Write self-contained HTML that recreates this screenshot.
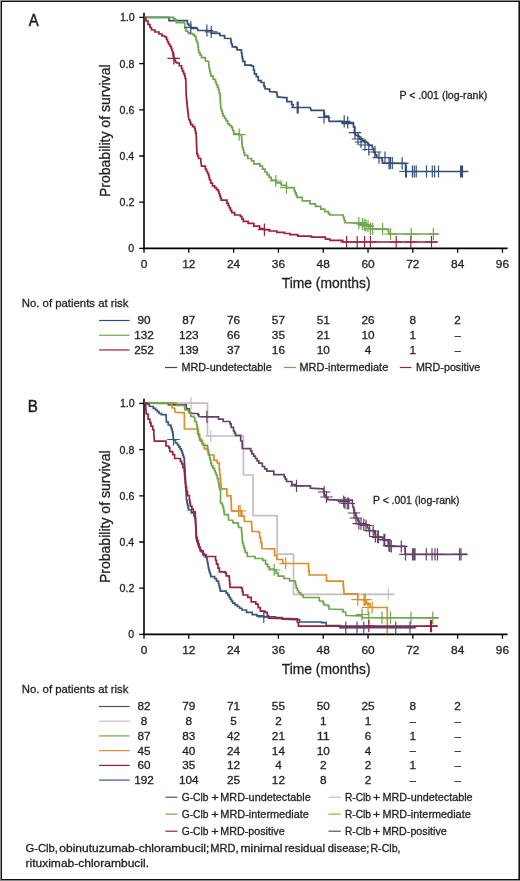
<!DOCTYPE html><html><head><meta charset="utf-8"><style>html,body{margin:0;padding:0;background:#fff;width:520px;height:881px;overflow:hidden}svg{display:block;will-change:transform}text{font-family:"Liberation Sans",sans-serif;fill:#231f20;stroke:#231f20;stroke-width:0.3px}</style></head><body>
<svg width="520" height="881" viewBox="0 0 520 881">
<rect x="0" y="0" width="520" height="881" fill="#8a8a8a"/><rect x="0" y="0" width="1" height="1" fill="#c8c8c8"/>
<rect x="1" y="1" width="519" height="879" fill="#111"/>
<rect x="2" y="2" width="516.4" height="877" fill="#fff"/>
<text x="28.8" y="25.6" font-size="17.2" textLength="9.93" lengthAdjust="spacingAndGlyphs" style="stroke-width:0.5px">A</text>
<path d="M144 12.8V249.2" stroke="#000" stroke-width="1.6" fill="none"/>
<path d="M143.2 248.4H507.6" stroke="#000" stroke-width="1.6" fill="none"/>
<path d="M139.2 248.4H144M139.2 202.2H144M139.2 156H144M139.2 109.8H144M139.2 63.6H144M139.2 17.4H144M144 248.4V252.8M188.81 248.4V252.8M233.62 248.4V252.8M278.42 248.4V252.8M323.23 248.4V252.8M368.04 248.4V252.8M412.85 248.4V252.8M457.66 248.4V252.8M502.46 248.4V252.8" stroke="#000" stroke-width="1.3" fill="none"/>
<text x="128.27" y="252.3" font-size="10.9" textLength="5.91" lengthAdjust="spacingAndGlyphs">0</text>
<text x="119.57" y="206.1" font-size="10.9" textLength="14.86" lengthAdjust="spacingAndGlyphs">0.2</text>
<text x="119.58" y="159.9" font-size="10.9" textLength="14.64" lengthAdjust="spacingAndGlyphs">0.4</text>
<text x="119.58" y="113.7" font-size="10.9" textLength="14.75" lengthAdjust="spacingAndGlyphs">0.6</text>
<text x="119.58" y="67.5" font-size="10.9" textLength="14.75" lengthAdjust="spacingAndGlyphs">0.8</text>
<text x="119.9" y="21.3" font-size="10.9" textLength="14.77" lengthAdjust="spacingAndGlyphs">1.0</text>
<text x="144" y="267.6" font-size="11.3" text-anchor="middle" textLength="6.63" lengthAdjust="spacingAndGlyphs">0</text>
<text x="188.81" y="267.6" font-size="11.3" text-anchor="middle" textLength="13.26" lengthAdjust="spacingAndGlyphs">12</text>
<text x="233.62" y="267.6" font-size="11.3" text-anchor="middle" textLength="13.26" lengthAdjust="spacingAndGlyphs">24</text>
<text x="278.42" y="267.6" font-size="11.3" text-anchor="middle" textLength="13.26" lengthAdjust="spacingAndGlyphs">36</text>
<text x="323.23" y="267.6" font-size="11.3" text-anchor="middle" textLength="13.26" lengthAdjust="spacingAndGlyphs">48</text>
<text x="368.04" y="267.6" font-size="11.3" text-anchor="middle" textLength="13.26" lengthAdjust="spacingAndGlyphs">60</text>
<text x="412.85" y="267.6" font-size="11.3" text-anchor="middle" textLength="13.26" lengthAdjust="spacingAndGlyphs">72</text>
<text x="457.66" y="267.6" font-size="11.3" text-anchor="middle" textLength="13.26" lengthAdjust="spacingAndGlyphs">84</text>
<text x="502.46" y="267.6" font-size="11.3" text-anchor="middle" textLength="13.26" lengthAdjust="spacingAndGlyphs">96</text>
<text x="281.72" y="287.9" font-size="14" textLength="88.86" lengthAdjust="spacingAndGlyphs">Time (months)</text>
<text x="0" y="0" font-size="14" textLength="132.69" lengthAdjust="spacingAndGlyphs" transform="translate(109.5 197.12) rotate(-90)">Probability of survival</text>
<path d="M144 17.3L169 17.3L169 20.7L186 20.7L187.4 20.7L187.4 24L188.8 24L188.8 25.5L190.8 25.5L190.8 26.4L190.8 28.3L197.5 28.3L198 30.5L211.2 30.5L211.2 33.1L218.8 33.3L219.8 33.3L219.8 35.4L223.7 35.6L224.6 35.6L224.6 38.3L230.4 38.5L230.85 38.5L230.85 41.25L231.3 41.25L231.3 44L232.3 44L232.3 46.9L236.2 46.9L236.2 47.6L237.1 47.6L237.1 49.8L241 49.8L241.45 49.8L241.45 53.15L241.9 53.15L241.9 56.5L242.4 56.5L242.4 58.9L242.9 58.9L242.9 61.3L244.8 61.3L244.8 65.2L251.5 65.2L251.5 66L253.5 66L253.5 70L254.4 70L254.4 73.8L256.3 73.8L256.3 76.7L258.3 76.7L258.3 80.6L261.2 80.6L261.2 82.5L264 82.5L264 86.3L265 86.3L265 88.8L268.7 89.2L269.6 89.2L269.6 91.5L276.3 92.1L276.8 92.1L276.8 94.5L277.3 94.5L277.3 96.9L285 97.6L286.9 97.6L286.9 101.7L291.7 101.7L291.7 104.6L293 104.6L293 107.5L310.4 107.5L311 110.4L323.5 110.4L323.95 110.4L323.95 113.3L324.4 113.3L324.4 116.2L328.5 116.2L329.2 121.3L342.3 121.3L342.3 123.4L353.5 123.4L353.5 126.9L354.6 126.9L354.6 128.5L354.4 133.1L355.4 133.1L355.4 135.4L358.5 135.4L358.5 136.5L359.6 136.5L359.6 138.8L362.3 138.8L362.3 140.8L365.4 140.8L365.4 142.3L367.7 142.3L367.7 143.8L368.5 143.8L368.5 145.4L372.3 145.4L372.3 147.7L373.4 148.2L373.8 152.5L375.25 152.5L375.25 154.9L376.7 154.9L376.7 157.3L381.5 157.8L382 157.8L382 160.45L382.5 160.45L382.5 163.1L405.6 163.3L405.6 171.5L468.3 171.5" stroke="#344e76" stroke-width="1.7" fill="none" stroke-linejoin="miter" stroke-linecap="butt"/>
<path d="M144 17.3L172 17.3L173.5 17.3L173.5 18.7L175.4 18.7L175.4 20.2L176.3 20.2L176.3 22.6L184.5 22.6L185 28.3L186 28.3L186 31.2L187.9 31.2L187.9 32.7L189.3 32.7L189.3 33.6L192.7 33.6L192.7 34.6L194.6 34.6L194.6 36.5L196 36.5L196 40L196.85 40L196.85 42L197.7 42L197.7 44L198.03 44L198.03 46.9L198.37 46.9L198.37 49.8L198.7 49.8L198.7 52.7L200.1 52.7L200.1 55.15L201.5 55.15L201.5 57.6L205.4 57.6L205.4 60.8L208.5 61.4L209.2 68.5L209.73 68.5L209.73 71.07L210.27 71.07L210.27 73.63L210.8 73.63L210.8 76.2L213.1 76.2L213.1 79.25L215.4 79.25L215.4 82.3L216.43 82.3L216.43 84.87L217.47 84.87L217.47 87.43L218.5 87.43L218.5 90L219.25 90L219.25 93.1L220 93.1L220 96.2L220.16 96.2L220.16 98.66L220.32 98.66L220.32 101.12L220.48 101.12L220.48 103.58L220.64 103.58L220.64 106.04L220.8 106.04L220.8 108.5L221.57 108.5L221.57 111.07L222.33 111.07L222.33 113.63L223.1 113.63L223.1 116.2L224.65 116.2L224.65 118.5L226.2 118.5L226.2 120.8L227.7 120.8L227.7 123.8L229.6 123.8L229.6 125.75L231.5 125.75L231.5 127.7L232.65 127.7L232.65 130.75L233.8 130.75L233.8 133.8L239.2 133.8L239.2 134.6L241.5 134.6L241.5 136.9L241.7 136.9L241.7 139.6L241.9 139.6L241.9 142.3L242.1 142.3L242.1 145L242.3 145L242.3 147.7L243.07 147.7L243.07 150.27L243.83 150.27L243.83 152.83L244.6 152.83L244.6 155.4L247.7 155.4L247.7 158.5L251.5 158.5L251.5 160.8L253.8 160.8L253.8 163.8L260 163.8L260 166.2L262.5 166.2L262.5 169.1L265 169.1L265 172L267.07 172L267.07 174.67L269.13 174.67L269.13 177.33L271.2 177.33L271.2 180L276 180L276 182.9L281.25 182.9L281.25 185.3L286.5 185.3L286.5 187.7L294.2 187.7L294.2 190.6L295.17 190.6L295.17 192.83L296.13 192.83L296.13 195.07L297.1 195.07L297.1 197.3L302.3 197.3L302.3 200.8L310 200.8L310 203.8L315.4 203.8L315.4 206.45L320.8 206.45L320.8 209.1L324.65 209.1L324.65 211.55L328.5 211.55L328.5 214L330 214L330 215L342.5 215L343.33 215L343.33 217.53L344.17 217.53L344.17 220.07L345 220.07L345 222.6L357.7 223L365.8 223L365.8 225.4L369.2 225.4L369.2 226.5L370.4 226.5L370.4 228.8L388 229.3L388.4 229.3L388.4 231.65L388.8 231.65L388.8 234L438 234" stroke="#6ea64e" stroke-width="1.7" fill="none" stroke-linejoin="miter" stroke-linecap="butt"/>
<path d="M144 17.3L145 17.3L145 19.15L146 19.15L146 21L148 21L148 24.5L150 24.5L150 27.5L151.5 27.5L151.5 30L155 30L155 32L159 32L159 34L162 34L162 36L165 36L165 37L166.5 37L166.5 39.5L167.5 39.5L167.5 41.75L168.5 41.75L168.5 44L169.75 44L169.75 46L171 46L171 48L171.75 48L171.75 50L172.5 50L172.5 52L172.9 52L172.9 54.07L173.3 54.07L173.3 56.13L173.7 56.13L173.7 58.2L174.55 58.2L174.55 60.25L175.4 60.25L175.4 62.3L177 62.3L177 63L179.25 63L179.25 65.75L181.5 65.75L181.5 68.5L182.53 68.5L182.53 71.07L183.57 71.07L183.57 73.63L184.6 73.63L184.6 76.2L185.2 76.2L185.2 78.5L185.8 78.5L185.8 80.8L186.2 96.2L186.44 96.2L186.44 98.66L186.68 98.66L186.68 101.12L186.92 101.12L186.92 103.58L187.16 103.58L187.16 106.04L187.4 106.04L187.4 108.5L187.68 108.5L187.68 110.8L187.95 110.8L187.95 113.1L188.22 113.1L188.22 115.4L188.5 115.4L188.5 117.7L189.2 120L190 120L190 122.3L190.8 122.3L190.8 124.6L192.7 124.6L192.7 126.55L194.6 126.55L194.6 128.5L195.13 128.5L195.13 130.8L195.67 130.8L195.67 133.1L196.2 133.1L196.2 135.4L196.29 135.4L196.29 137.7L196.38 137.7L196.38 140L196.46 140L196.46 142.3L196.55 142.3L196.55 144.6L196.64 144.6L196.64 146.9L196.72 146.9L196.72 149.2L196.81 149.2L196.81 151.5L196.9 151.5L196.9 153.8L197.7 153.8L197.7 156.15L198.5 156.15L198.5 158.5L200.8 158.5L200.8 160.8L201.5 166.2L205.4 166.2L205.4 169.2L206.43 169.2L206.43 171.27L207.47 171.27L207.47 173.33L208.5 173.33L208.5 175.4L209.05 175.4L209.05 177.7L209.6 177.7L209.6 180L210.8 180L210.8 183.1L212.5 183.1L212.5 185.8L214.6 185.8L214.6 187.7L216.45 187.7L216.45 189.6L218.3 189.6L218.3 191.5L219.03 191.5L219.03 193.68L219.75 193.68L219.75 195.85L220.47 195.85L220.47 198.02L221.2 198.02L221.2 200.2L226.9 200.2L226.9 203.1L228.1 203.1L228.1 205.5L229.3 205.5L229.3 207.9L230.5 207.9L230.5 210.3L231.7 210.3L231.7 212.7L234.6 212.7L234.6 215L240.4 215L240.4 216.5L241.85 216.5L241.85 218.9L243.3 218.9L243.3 221.3L248.1 221.3L248.1 223.3L253.8 223.3L253.8 226.2L259.6 226.2L259.6 228.5L264.4 228.5L264.4 229.6L269.2 229.6L269.2 231L276.9 231L276.9 232.3L284.6 232.3L284.6 233.5L290 233.5L290 234.6L297.7 234.6L297.7 236.2L311.5 236.2L311.5 237.1L325.4 237.1L325.4 239.2L330 239.2L330 240.4L341.5 240.4L342.7 240.4L342.7 242L437.5 242" stroke="#9c1f3e" stroke-width="1.7" fill="none" stroke-linejoin="miter" stroke-linecap="butt"/>
<path d="M167.5 58.4H180.1M173.8 52.3V64.5M258.1 229.6H270.7M264.4 223.5V235.7M340.3 242H352.9M346.6 235.9V248.1M350.9 242H363.5M357.2 235.9V248.1M358.3 242H370.9M364.6 235.9V248.1M364.1 242H376.7M370.4 235.9V248.1M389.9 242H402.5M396.2 235.9V248.1M404.5 242H417.1M410.8 235.9V248.1M425.2 242H437.8M431.5 235.9V248.1" stroke="#9c1f3e" stroke-width="1.2" fill="none"/>
<path d="M232.9 134.6H245.5M239.2 128.5V140.7M269.5 181H282.1M275.8 174.9V187.1M280.2 187.7H292.8M286.5 181.6V193.8M352.5 223.2H365.1M358.8 217.1V229.3M356 224H368.6M362.3 217.9V230.1M357.9 224.8H370.5M364.2 218.7V230.9M359.5 225.4H372.1M365.8 219.3V231.5M361.7 226.2H374.3M368 220.1V232.3M364.1 228.8H376.7M370.4 222.7V234.9M366.4 228.9H379M372.7 222.8V235M376.3 229.1H388.9M382.6 223V235.2M384.2 234H396.8M390.5 227.9V240.1M404.9 234H417.5M411.2 227.9V240.1M427.1 234H439.7M433.4 227.9V240.1" stroke="#6ea64e" stroke-width="1.2" fill="none"/>
<path d="M184.5 27.4H197.1M190.8 21.3V33.5M200.6 30.5H213.2M206.9 24.4V36.6M204.9 31.8H217.5M211.2 25.7V37.9M290.9 107.5H303.5M297.2 101.4V113.6M291.9 107.5H304.5M298.2 101.4V113.6M317.7 117.3H330.3M324 111.2V123.4M337.9 121.3H350.5M344.2 115.2V127.4M341.4 122.4H354M347.7 116.3V128.5M348.7 132.7H361.3M355 126.6V138.8M351.7 139H364.3M358 132.9V145.1M354.7 142H367.3M361 135.9V148.1M358.7 145H371.3M365 138.9V151.1M362.5 149.5H375.1M368.8 143.4V155.6M368.7 152H381.3M375 145.9V158.1M372.7 157.7H385.3M379 151.6V163.8M378.7 157.7H391.3M385 151.6V163.8M382.7 163.2H395.3M389 157.1V169.3M384.1 163.2H396.7M390.4 157.1V169.3M386 163.2H398.6M392.3 157.1V169.3M395.9 163.3H408.5M402.2 157.2V169.4M399.3 171.5H411.9M405.6 165.4V177.6" stroke="#344e76" stroke-width="1.2" fill="none"/>
<path d="M406.4 171.5H406.4M406.4 165.4V177.6M412.4 171.5H412.4M412.4 165.4V177.6M414.3 171.5H414.3M414.3 165.4V177.6M416.2 171.5H416.2M416.2 165.4V177.6M426.5 171.5H426.5M426.5 165.4V177.6M432.3 171.5H432.3M432.3 165.4V177.6M434.6 171.5H434.6M434.6 165.4V177.6M438.5 171.5H438.5M438.5 165.4V177.6M460.6 171.5H460.6M460.6 165.4V177.6M461.6 171.5H461.6M461.6 165.4V177.6M462.5 171.5H462.5M462.5 165.4V177.6" stroke="#344e76" stroke-width="1.2" fill="none"/>
<text x="399.45" y="98.9" font-size="10.9" textLength="87.8" lengthAdjust="spacingAndGlyphs">P &lt; .001 (log-rank)</text>
<text x="21.79" y="306.6" font-size="11.8" textLength="106.69" lengthAdjust="spacingAndGlyphs">No. of patients at risk</text>
<path d="M99 320.5H129.6" stroke="#344e76" stroke-width="1.2" fill="none"/>
<text x="144" y="324.4" font-size="11.2" text-anchor="middle" textLength="13.1" lengthAdjust="spacingAndGlyphs">90</text>
<text x="188.81" y="324.4" font-size="11.2" text-anchor="middle" textLength="13.1" lengthAdjust="spacingAndGlyphs">87</text>
<text x="233.62" y="324.4" font-size="11.2" text-anchor="middle" textLength="13.1" lengthAdjust="spacingAndGlyphs">76</text>
<text x="278.42" y="324.4" font-size="11.2" text-anchor="middle" textLength="13.1" lengthAdjust="spacingAndGlyphs">57</text>
<text x="323.23" y="324.4" font-size="11.2" text-anchor="middle" textLength="13.1" lengthAdjust="spacingAndGlyphs">51</text>
<text x="368.04" y="324.4" font-size="11.2" text-anchor="middle" textLength="13.1" lengthAdjust="spacingAndGlyphs">26</text>
<text x="412.85" y="324.4" font-size="11.2" text-anchor="middle" textLength="6.55" lengthAdjust="spacingAndGlyphs">8</text>
<text x="457.66" y="324.4" font-size="11.2" text-anchor="middle" textLength="6.55" lengthAdjust="spacingAndGlyphs">2</text>
<path d="M99 335.22H129.6" stroke="#6ea64e" stroke-width="1.2" fill="none"/>
<text x="144" y="339.12" font-size="11.2" text-anchor="middle" textLength="19.65" lengthAdjust="spacingAndGlyphs">132</text>
<text x="188.81" y="339.12" font-size="11.2" text-anchor="middle" textLength="19.65" lengthAdjust="spacingAndGlyphs">123</text>
<text x="233.62" y="339.12" font-size="11.2" text-anchor="middle" textLength="13.1" lengthAdjust="spacingAndGlyphs">66</text>
<text x="278.42" y="339.12" font-size="11.2" text-anchor="middle" textLength="13.1" lengthAdjust="spacingAndGlyphs">35</text>
<text x="323.23" y="339.12" font-size="11.2" text-anchor="middle" textLength="13.1" lengthAdjust="spacingAndGlyphs">21</text>
<text x="368.04" y="339.12" font-size="11.2" text-anchor="middle" textLength="13.1" lengthAdjust="spacingAndGlyphs">10</text>
<text x="412.85" y="339.12" font-size="11.2" text-anchor="middle" textLength="6.55" lengthAdjust="spacingAndGlyphs">1</text>
<text x="457.66" y="338.82" font-size="10.9" text-anchor="middle">–</text>
<path d="M99 349.94H129.6" stroke="#9c1f3e" stroke-width="1.2" fill="none"/>
<text x="144" y="353.84" font-size="11.2" text-anchor="middle" textLength="19.65" lengthAdjust="spacingAndGlyphs">252</text>
<text x="188.81" y="353.84" font-size="11.2" text-anchor="middle" textLength="19.65" lengthAdjust="spacingAndGlyphs">139</text>
<text x="233.62" y="353.84" font-size="11.2" text-anchor="middle" textLength="13.1" lengthAdjust="spacingAndGlyphs">37</text>
<text x="278.42" y="353.84" font-size="11.2" text-anchor="middle" textLength="13.1" lengthAdjust="spacingAndGlyphs">16</text>
<text x="323.23" y="353.84" font-size="11.2" text-anchor="middle" textLength="13.1" lengthAdjust="spacingAndGlyphs">10</text>
<text x="368.04" y="353.84" font-size="11.2" text-anchor="middle" textLength="6.55" lengthAdjust="spacingAndGlyphs">4</text>
<text x="412.85" y="353.84" font-size="11.2" text-anchor="middle" textLength="6.55" lengthAdjust="spacingAndGlyphs">1</text>
<text x="457.66" y="353.54" font-size="10.9" text-anchor="middle">–</text>
<path d="M165 367.5H177.3" stroke="#344e76" stroke-width="1.2" fill="none"/>
<text x="181.43" y="370.6" font-size="10.9" textLength="90.38" lengthAdjust="spacingAndGlyphs">MRD-undetectable</text>
<path d="M283.7 367.5H295.8" stroke="#6ea64e" stroke-width="1.2" fill="none"/>
<text x="299.53" y="370.6" font-size="10.9" textLength="88.71" lengthAdjust="spacingAndGlyphs">MRD-intermediate</text>
<path d="M399.8 367.5H411.3" stroke="#9c1f3e" stroke-width="1.2" fill="none"/>
<text x="415.94" y="370.6" font-size="10.9" textLength="64.35" lengthAdjust="spacingAndGlyphs">MRD-positive</text>
<text x="27.69" y="411.6" font-size="17.2" textLength="10.1" lengthAdjust="spacingAndGlyphs" style="stroke-width:0.5px">B</text>
<path d="M144 398.8V635.2" stroke="#000" stroke-width="1.6" fill="none"/>
<path d="M143.2 634.4H507.6" stroke="#000" stroke-width="1.6" fill="none"/>
<path d="M139.2 634.4H144M139.2 588.2H144M139.2 542H144M139.2 495.8H144M139.2 449.6H144M139.2 403.4H144M144 634.4V638.8M188.81 634.4V638.8M233.62 634.4V638.8M278.42 634.4V638.8M323.23 634.4V638.8M368.04 634.4V638.8M412.85 634.4V638.8M457.66 634.4V638.8M502.46 634.4V638.8" stroke="#000" stroke-width="1.3" fill="none"/>
<text x="128.27" y="638.3" font-size="10.9" textLength="5.91" lengthAdjust="spacingAndGlyphs">0</text>
<text x="119.57" y="592.1" font-size="10.9" textLength="14.86" lengthAdjust="spacingAndGlyphs">0.2</text>
<text x="119.58" y="545.9" font-size="10.9" textLength="14.64" lengthAdjust="spacingAndGlyphs">0.4</text>
<text x="119.58" y="499.7" font-size="10.9" textLength="14.75" lengthAdjust="spacingAndGlyphs">0.6</text>
<text x="119.58" y="453.5" font-size="10.9" textLength="14.75" lengthAdjust="spacingAndGlyphs">0.8</text>
<text x="119.9" y="407.3" font-size="10.9" textLength="14.77" lengthAdjust="spacingAndGlyphs">1.0</text>
<text x="144" y="653.6" font-size="11.3" text-anchor="middle" textLength="6.63" lengthAdjust="spacingAndGlyphs">0</text>
<text x="188.81" y="653.6" font-size="11.3" text-anchor="middle" textLength="13.26" lengthAdjust="spacingAndGlyphs">12</text>
<text x="233.62" y="653.6" font-size="11.3" text-anchor="middle" textLength="13.26" lengthAdjust="spacingAndGlyphs">24</text>
<text x="278.42" y="653.6" font-size="11.3" text-anchor="middle" textLength="13.26" lengthAdjust="spacingAndGlyphs">36</text>
<text x="323.23" y="653.6" font-size="11.3" text-anchor="middle" textLength="13.26" lengthAdjust="spacingAndGlyphs">48</text>
<text x="368.04" y="653.6" font-size="11.3" text-anchor="middle" textLength="13.26" lengthAdjust="spacingAndGlyphs">60</text>
<text x="412.85" y="653.6" font-size="11.3" text-anchor="middle" textLength="13.26" lengthAdjust="spacingAndGlyphs">72</text>
<text x="457.66" y="653.6" font-size="11.3" text-anchor="middle" textLength="13.26" lengthAdjust="spacingAndGlyphs">84</text>
<text x="502.46" y="653.6" font-size="11.3" text-anchor="middle" textLength="13.26" lengthAdjust="spacingAndGlyphs">96</text>
<text x="281.72" y="673.9" font-size="14" textLength="88.86" lengthAdjust="spacingAndGlyphs">Time (months)</text>
<text x="0" y="0" font-size="14" textLength="132.69" lengthAdjust="spacingAndGlyphs" transform="translate(109.5 583.12) rotate(-90)">Probability of survival</text>
<path d="M144.3 403.1L207.5 403.1L207.5 436L243.4 436L243.4 475L253 475L253 515.7L277.2 515.7L277.2 554.2L293.5 554.2L293.5 594.4L393.8 594.4" stroke="#c4bec4" stroke-width="1.7" fill="none" stroke-linejoin="miter" stroke-linecap="butt"/>
<path d="M144.3 403.1L168 403.1L168.3 404.8L185 404.8L186.2 404.8L186.2 406L186.7 408.8L189.6 408.8L189.6 412.9L193.7 413.5L197.7 413.5L197.7 414.6L198.8 414.6L198.8 416.5L217 416.9L218.5 416.9L218.5 419.2L223.1 419.2L223.1 421.5L230 421.5L230 423.8L231.2 423.8L231.2 427.3L233.5 427.3L233.5 430.8L234.5 430.8L234.5 433.05L235.5 433.05L235.5 435.3L240.7 435.3L240.7 441L242.2 441L242.2 448.4L249.6 448.6L250.75 448.6L250.75 451.2L251.9 451.2L251.9 453.8L253.65 453.8L253.65 456.15L255.4 456.15L255.4 458.5L257.1 458.5L257.1 460.8L258.8 460.8L258.8 463.1L262.3 463.1L262.3 466.5L264.6 466.5L264.6 468.85L266.9 468.85L266.9 471.2L273.8 471.2L273.8 474.6L284.2 474.6L284.2 476.9L285.35 476.9L285.35 479.2L286.5 479.2L286.5 481.5L291.9 481.5L291.9 484.6L295.4 484.6L295.4 485.8L309.2 485.8L310.4 485.8L310.4 488.1L323.1 488.8L323.65 488.8L323.65 491.9L324.2 491.9L324.2 495L325.95 495L325.95 497.3L327.7 497.3L327.7 499.6L341.5 500.1L352.3 500.1L352.8 507L353.65 507L353.65 510L354.5 510L354.5 513L355.5 513L355.5 515.75L356.5 515.75L356.5 518.5L357.75 518.5L357.75 521L359 521L359 523.5L366 523.5L366 525.5L367.5 525.5L367.5 528L369 528L369 530.5L374 530.5L374 531.5L374.75 531.5L374.75 534L375.5 534L375.5 536.5L379 536.5L379 537.5L383 537.5L383 540L388 540.5L388.5 546.3L405 546.3L405.3 554.3L467.5 554.3" stroke="#654166" stroke-width="1.7" fill="none" stroke-linejoin="miter" stroke-linecap="butt"/>
<path d="M144.3 403.1L171.7 403.7L172.3 407.7L174.6 408.3L175.2 412.3L184.4 412.9L184.4 429L195.8 429L197.5 429L197.5 434L199.6 434L199.6 440.2L202.5 440.2L202.5 445L204.4 445L204.4 448.8L207.3 448.8L207.3 449.8L208.3 449.8L208.3 454.6L213.1 455L214 455L214 460.4L217.3 460.4L217.3 462.9L219.2 462.9L219.2 469.6L219.7 469.6L219.7 474.4L220.2 474.4L220.2 479.2L220.7 479.2L220.7 484L221.2 484L221.2 488.8L226.8 488.8L226.8 489.8L226.8 495.8L230.8 495.8L231.2 500.4L231.5 510.8L241.7 510.8L241.9 516.2L244.2 516.2L244.4 521.5L251.5 521.5L252.1 531.5L258.5 531.5L258.5 532.5L259.65 532.5L259.65 537.6L260.8 537.6L260.8 542.7L261.9 542.7L261.9 548.5L272.3 548.9L274.6 548.9L274.6 555.4L276.9 555.4L276.9 559.5L282.7 559.5L282.7 563.5L308.1 563.5L308.47 563.5L308.47 567.33L308.83 567.33L308.83 571.17L309.2 571.17L309.2 575L325.4 575L326.5 575L326.5 581.2L342.7 581.2L343.13 581.2L343.13 585.4L343.57 585.4L343.57 589.6L344 589.6L344 593.8L357.5 593.8L358 599.5L365 600L366.3 600L366.3 603.8L370 603.8L370 607.5L387.3 607.5L387.3 633.6" stroke="#d98e2c" stroke-width="1.7" fill="none" stroke-linejoin="miter" stroke-linecap="butt"/>
<path d="M144.3 403.1L176.3 403.1L176.8 405.4L184.4 405.4L185 410L188.5 410L188.5 412.3L190.8 412.3L190.8 416.3L193.7 416.3L193.7 417.5L194.8 417.5L194.8 421.5L196.5 421.5L196.5 425L197.1 425L197.1 427.3L197.7 427.3L197.7 429.6L198.3 429.6L198.3 431.9L198.7 436.3L199.65 436.3L199.65 438.75L200.6 438.75L200.6 441.2L202.05 441.2L202.05 443.3L203.5 443.3L203.5 445.4L207.3 445.4L207.3 446.9L207.8 446.9L207.8 449.8L208.3 449.8L208.3 452.7L208.93 452.7L208.93 455.27L209.57 455.27L209.57 457.83L210.2 457.83L210.2 460.4L210.85 460.4L210.85 463.1L211.5 463.1L211.5 465.8L212.95 465.8L212.95 468.2L214.4 468.2L214.4 470.6L215.35 470.6L215.35 473L216.3 473L216.3 475.4L217.3 475.4L217.3 478.75L218.3 478.75L218.3 482.1L218.73 482.1L218.73 484.57L219.17 484.57L219.17 487.03L219.6 487.03L219.6 489.5L220.5 489.5L220.5 490.5L220.5 503L222 503L222 504.5L222.75 504.5L222.75 506.75L223.5 506.75L223.5 509L223.9 509L223.9 511.8L224.3 511.8L224.3 514.6L228.3 514.6L228.6 520L232.7 520.2L233 522.8L237.8 522.8L238.2 522.8L238.2 525.15L238.6 525.15L238.6 527.5L240.7 527.5L241.5 527.5L241.5 531.5L241.75 531.5L241.75 534.4L242 534.4L242 537.3L242.25 537.3L242.25 540.2L242.5 540.2L242.5 543.1L243.22 543.1L243.22 545.5L243.95 545.5L243.95 547.9L244.68 547.9L244.68 550.3L245.4 550.3L245.4 552.7L247.3 552.7L247.3 556.5L255 556.5L255 558.5L262.7 558.5L262.7 560.4L265.6 560.4L265.6 564.2L267.5 564.2L267.5 566.6L269.4 566.6L269.4 569L274.2 569L274.2 570L276.15 570L276.15 573.1L278.1 573.1L278.1 576.2L283.8 576.2L283.8 578.5L289.6 578.5L289.6 580.8L295 580.8L295 582.3L295.6 582.3L295.6 585.2L296.2 585.2L296.2 588.1L297.35 588.1L297.35 590.4L298.5 590.4L298.5 592.7L300.8 592.7L300.8 595L303.1 595L303.1 597.3L316.9 597.5L318.5 597.5L319.3 597.5L319.3 601L323 601L323 602.8L324 602.8L324 605L328 605L328 606L329 606L329 609L342 609.5L343 609.5L343 612L345.5 612L346 615.5L362 615.8L362.5 617.6L438 617.8" stroke="#6ea64e" stroke-width="1.7" fill="none" stroke-linejoin="miter" stroke-linecap="butt"/>
<path d="M144.3 403.1L146.3 403.1L147.5 403.1L147.5 404.2L149.2 404.2L149.2 406L151.5 406.5L153.3 406.5L153.3 408.3L155.6 408.3L155.6 410L157.3 410L157.3 411.7L159 411.7L159 413.5L161.3 413.5L161.3 414.6L166 414.6L166.5 422.1L168.3 422.1L168.3 425L170.6 425L170.6 426.2L171.15 426.2L171.15 427.9L171.7 427.9L171.7 429.6L172.3 429.6L172.3 431.9L172.9 431.9L172.9 434.2L173.5 440L175.5 440L175.5 443L177.5 443L177.5 445L178.77 445L178.77 446.93L180.03 446.93L180.03 448.87L181.3 448.87L181.3 450.8L182.03 450.8L182.03 452.95L182.75 452.95L182.75 455.1L183.47 455.1L183.47 457.25L184.2 457.25L184.2 459.4L184.33 459.4L184.33 461.42L184.47 461.42L184.47 463.43L184.6 463.43L184.6 465.45L184.73 465.45L184.73 467.47L184.87 467.47L184.87 469.48L185 469.48L185 471.5L185.11 471.5L185.11 473.71L185.23 473.71L185.23 475.93L185.34 475.93L185.34 478.14L185.46 478.14L185.46 480.36L185.57 480.36L185.57 482.57L185.69 482.57L185.69 484.79L185.8 484.79L185.8 487L186.5 500.4L187 500.4L187 502.8L187.5 502.8L187.5 505.2L188 505.2L188 507.6L188.5 507.6L188.5 510L191.3 510L191.3 512.9L194 512.9L194 516L194.7 516L194.7 518L195.4 518L195.4 520L195.5 520L195.5 522.13L195.6 522.13L195.6 524.27L195.7 524.27L195.7 526.4L195.8 526.4L195.8 528.53L195.9 528.53L195.9 530.67L196 530.67L196 532.8L196.1 532.8L196.1 534.93L196.2 534.93L196.2 537.07L196.3 537.07L196.3 539.2L196.97 539.2L196.97 541.47L197.63 541.47L197.63 543.73L198.3 543.73L198.3 546L199.27 546L199.27 547.9L200.23 547.9L200.23 549.8L201.2 549.8L201.2 551.7L202.6 551.7L202.6 553.65L204 553.65L204 555.6L205.45 555.6L205.45 557.5L206.9 557.5L206.9 559.4L207.28 559.4L207.28 561.52L207.66 561.52L207.66 563.64L208.04 563.64L208.04 565.76L208.42 565.76L208.42 567.88L208.8 567.88L208.8 570L209.47 570L209.47 572.23L210.13 572.23L210.13 574.47L210.8 574.47L210.8 576.7L214.6 576.7L214.6 578.7L216.55 578.7L216.55 581.1L218.5 581.1L218.5 583.5L218.97 583.5L218.97 585.42L219.45 585.42L219.45 587.35L219.93 587.35L219.93 589.28L220.4 589.28L220.4 591.2L226.2 591.2L226.2 593.1L227.7 593.1L227.7 595.2L229.2 595.2L229.2 597.3L230.37 597.3L230.37 599.23L231.53 599.23L231.53 601.17L232.7 601.17L232.7 603.1L235 603.1L235 604.8L237.3 604.8L237.3 606.5L239.6 606.5L239.6 608.25L241.9 608.25L241.9 610L246.5 610L246.5 612.3L252.3 612.3L252.3 614.6L256.9 614.6L256.9 615.8L263.8 615.8L263.8 616.9L275.4 616.9L275.4 617.6L282.3 617.6L282.3 619.2L296.2 619.7L299.6 619.7L299.6 622L321.5 622L321.5 622.7L326.2 622.7L326.2 625.5L340 625.5L340 627.7L415 627.7" stroke="#3a5581" stroke-width="1.7" fill="none" stroke-linejoin="miter" stroke-linecap="butt"/>
<path d="M144.3 403.1L145.8 403.1L145.8 407.7L146.3 414L148.1 414L148.1 419.2L149.8 419.2L149.8 422.7L151 422.7L151 426.2L152.7 426.2L152.7 429.6L153.8 429.6L153.8 433.7L154.4 441.2L165 441.2L166 441.2L166 446L168.8 446L168.8 447.9L169.8 447.9L169.8 451.7L172.7 451.7L172.7 454.6L174.6 454.6L174.6 458.5L180.4 458.5L180.4 461.3L181.7 461.3L181.7 463.8L182.95 463.8L182.95 467.65L184.2 467.65L184.2 471.5L184.55 471.5L184.55 475.35L184.9 475.35L184.9 479.2L185.25 479.2L185.25 483.05L185.6 483.05L185.6 486.9L186.55 486.9L186.55 491.25L187.5 491.25L187.5 495.6L189.4 495.6L189.4 500.4L189.9 500.4L189.9 503.3L190.4 503.3L190.4 506.2L191.85 506.2L191.85 509.05L193.3 509.05L193.3 511.9L195.2 511.9L195.2 515.8L195.38 515.8L195.38 519.38L195.57 519.38L195.57 522.97L195.75 522.97L195.75 526.55L195.93 526.55L195.93 530.13L196.12 530.13L196.12 533.72L196.3 533.72L196.3 537.3L197.28 537.3L197.28 540.67L198.25 540.67L198.25 544.05L199.22 544.05L199.22 547.42L200.2 547.42L200.2 550.8L203.1 550.8L203.1 554.6L206 554.6L206 556.5L214.6 556.5L215.55 556.5L215.55 560.35L216.5 560.35L216.5 564.2L217.95 564.2L217.95 568.05L219.4 568.05L219.4 571.9L225.2 571.9L225.2 572.9L226.2 572.9L226.2 575.8L229 575.8L229 576.7L229.33 576.7L229.33 580.23L229.67 580.23L229.67 583.77L230 583.77L230 587.3L241.5 587.3L241.5 588.3L242.3 588.3L242.3 591.65L243.1 591.65L243.1 595L247.7 595L247.7 597.3L251.2 597.3L251.2 601.9L255.8 601.9L255.8 604.2L258.1 604.2L258.1 607.7L260.4 607.7L260.4 611.2L265 611.2L265 612.3L267.3 612.3L267.3 615.8L268.5 615.8L268.5 618.1L296.2 618.8L297.35 618.8L297.35 622.5L298.5 622.5L298.5 626.2L437.5 626.2" stroke="#9c1f3e" stroke-width="1.7" fill="none" stroke-linejoin="miter" stroke-linecap="butt"/>
<path d="M184.7 403.1H197.3M191 397V409.2M204.5 436H217.1M210.8 429.9V442.1M382 594.4H394.6M388.3 588.3V600.5" stroke="#c4bec4" stroke-width="1.2" fill="none"/>
<path d="M200.6 416.9H213.2M206.9 410.8V423M290.2 485.8H302.8M296.5 479.7V491.9M317.9 492H330.5M324.2 485.9V498.1M320.2 497H332.8M326.5 490.9V503.1M337.4 501.5H350M343.7 495.4V507.6M338.7 503H351.3M345 496.9V509.1M341 503.5H353.6M347.3 497.4V509.6M342.4 503.5H355M348.7 497.4V509.6M347.7 513H360.3M354 506.9V519.1M349.7 518H362.3M356 511.9V524.1M352.5 523.5H365.1M358.8 517.4V529.6M354.7 524H367.3M361 517.9V530.1M357.5 524.5H370.1M363.8 518.4V530.6M359.7 525.5H372.3M366 519.4V531.6M363.3 530.5H375.9M369.6 524.4V536.6M366.9 531H379.5M373.2 524.9V537.1M369.1 536.5H381.7M375.4 530.4V542.6M371.2 537H383.8M377.5 530.9V543.1M372 537.5H384.6M378.3 531.4V543.6M377.7 539.5H390.3M384 533.4V545.6M378.5 540H391.1M384.8 533.9V546.1M382.7 545.5H395.3M389 539.4V551.6M383.5 546H396.1M389.8 539.9V552.1M385 546.3H397.6M391.3 540.2V552.4M395 546.3H407.6M401.3 540.2V552.4M399.2 554.3H411.8M405.5 548.2V560.4M406.2 554.3H418.8M412.5 548.2V560.4M407.5 554.3H420.1M413.8 548.2V560.4M408.7 554.3H421.3M415 548.2V560.4M420 554.3H432.6M426.3 548.2V560.4M425.7 554.3H438.3M432 548.2V560.4M428.7 554.3H441.3M435 548.2V560.4M431.2 554.3H443.8M437.5 548.2V560.4M453.2 554.3H465.8M459.5 548.2V560.4M454.7 554.3H467.3M461 548.2V560.4" stroke="#654166" stroke-width="1.2" fill="none"/>
<path d="M232.3 511H244.9M238.6 504.9V517.1M233.9 511H246.5M240.2 504.9V517.1M279.4 563.5H292M285.7 557.4V569.6M351.4 599.6H364M357.7 593.5V605.7M357.7 599.6H370.3M364 593.5V605.7M359 599.6H371.6M365.3 593.5V605.7M361.7 607.5H374.3M368 601.4V613.6M365.9 607.5H378.5M372.2 601.4V613.6" stroke="#d98e2c" stroke-width="1.2" fill="none"/>
<path d="M267.9 570H280.5M274.2 563.9V576.1M355.7 614.5H368.3M362 608.4V620.6M362.5 617.5H375.1M368.8 611.4V623.6M375.7 617.6H388.3M382 611.5V623.7M384.2 617.6H396.8M390.5 611.5V623.7M404.7 617.7H417.3M411 611.6V623.8M426.5 617.8H439.1M432.8 611.7V623.9" stroke="#6ea64e" stroke-width="1.2" fill="none"/>
<path d="M167.2 439.5H179.8M173.5 433.4V445.6M257.5 616.9H270.1M263.8 610.8V623M339.5 627.7H352.1M345.8 621.6V633.8M350.7 627.7H363.3M357 621.6V633.8M357.5 627.7H370.1M363.8 621.6V633.8M389.5 627.7H402.1M395.8 621.6V633.8M403.7 627.7H416.3M410 621.6V633.8" stroke="#3a5581" stroke-width="1.2" fill="none"/>
<path d="M362.5 626.2H375.1M368.8 620.1V632.3M424.2 626.2H436.8M430.5 620.1V632.3M425.2 626.2H437.8M431.5 620.1V632.3" stroke="#9c1f3e" stroke-width="1.2" fill="none"/>
<text x="372.97" y="503.8" font-size="10.9" textLength="86.48" lengthAdjust="spacingAndGlyphs">P &lt; .001 (log-rank)</text>
<text x="21.79" y="692.6" font-size="11.8" textLength="106.69" lengthAdjust="spacingAndGlyphs">No. of patients at risk</text>
<path d="M99 706.5H129.6" stroke="#654166" stroke-width="1.2" fill="none"/>
<text x="144" y="710.4" font-size="11.2" text-anchor="middle" textLength="13.1" lengthAdjust="spacingAndGlyphs">82</text>
<text x="188.81" y="710.4" font-size="11.2" text-anchor="middle" textLength="13.1" lengthAdjust="spacingAndGlyphs">79</text>
<text x="233.62" y="710.4" font-size="11.2" text-anchor="middle" textLength="13.1" lengthAdjust="spacingAndGlyphs">71</text>
<text x="278.42" y="710.4" font-size="11.2" text-anchor="middle" textLength="13.1" lengthAdjust="spacingAndGlyphs">55</text>
<text x="323.23" y="710.4" font-size="11.2" text-anchor="middle" textLength="13.1" lengthAdjust="spacingAndGlyphs">50</text>
<text x="368.04" y="710.4" font-size="11.2" text-anchor="middle" textLength="13.1" lengthAdjust="spacingAndGlyphs">25</text>
<text x="412.85" y="710.4" font-size="11.2" text-anchor="middle" textLength="6.55" lengthAdjust="spacingAndGlyphs">8</text>
<text x="457.66" y="710.4" font-size="11.2" text-anchor="middle" textLength="6.55" lengthAdjust="spacingAndGlyphs">2</text>
<path d="M99 721.22H129.6" stroke="#c4bec4" stroke-width="1.2" fill="none"/>
<text x="144" y="725.12" font-size="11.2" text-anchor="middle" textLength="6.55" lengthAdjust="spacingAndGlyphs">8</text>
<text x="188.81" y="725.12" font-size="11.2" text-anchor="middle" textLength="6.55" lengthAdjust="spacingAndGlyphs">8</text>
<text x="233.62" y="725.12" font-size="11.2" text-anchor="middle" textLength="6.55" lengthAdjust="spacingAndGlyphs">5</text>
<text x="278.42" y="725.12" font-size="11.2" text-anchor="middle" textLength="6.55" lengthAdjust="spacingAndGlyphs">2</text>
<text x="323.23" y="725.12" font-size="11.2" text-anchor="middle" textLength="6.55" lengthAdjust="spacingAndGlyphs">1</text>
<text x="368.04" y="725.12" font-size="11.2" text-anchor="middle" textLength="6.55" lengthAdjust="spacingAndGlyphs">1</text>
<text x="412.85" y="724.82" font-size="10.9" text-anchor="middle">–</text>
<text x="457.66" y="724.82" font-size="10.9" text-anchor="middle">–</text>
<path d="M99 735.94H129.6" stroke="#6ea64e" stroke-width="1.2" fill="none"/>
<text x="144" y="739.84" font-size="11.2" text-anchor="middle" textLength="13.1" lengthAdjust="spacingAndGlyphs">87</text>
<text x="188.81" y="739.84" font-size="11.2" text-anchor="middle" textLength="13.1" lengthAdjust="spacingAndGlyphs">83</text>
<text x="233.62" y="739.84" font-size="11.2" text-anchor="middle" textLength="13.1" lengthAdjust="spacingAndGlyphs">42</text>
<text x="278.42" y="739.84" font-size="11.2" text-anchor="middle" textLength="13.1" lengthAdjust="spacingAndGlyphs">21</text>
<text x="323.23" y="739.84" font-size="11.2" text-anchor="middle" textLength="13.1" lengthAdjust="spacingAndGlyphs">11</text>
<text x="368.04" y="739.84" font-size="11.2" text-anchor="middle" textLength="6.55" lengthAdjust="spacingAndGlyphs">6</text>
<text x="412.85" y="739.84" font-size="11.2" text-anchor="middle" textLength="6.55" lengthAdjust="spacingAndGlyphs">1</text>
<text x="457.66" y="739.54" font-size="10.9" text-anchor="middle">–</text>
<path d="M99 750.66H129.6" stroke="#d98e2c" stroke-width="1.2" fill="none"/>
<text x="144" y="754.56" font-size="11.2" text-anchor="middle" textLength="13.1" lengthAdjust="spacingAndGlyphs">45</text>
<text x="188.81" y="754.56" font-size="11.2" text-anchor="middle" textLength="13.1" lengthAdjust="spacingAndGlyphs">40</text>
<text x="233.62" y="754.56" font-size="11.2" text-anchor="middle" textLength="13.1" lengthAdjust="spacingAndGlyphs">24</text>
<text x="278.42" y="754.56" font-size="11.2" text-anchor="middle" textLength="13.1" lengthAdjust="spacingAndGlyphs">14</text>
<text x="323.23" y="754.56" font-size="11.2" text-anchor="middle" textLength="13.1" lengthAdjust="spacingAndGlyphs">10</text>
<text x="368.04" y="754.56" font-size="11.2" text-anchor="middle" textLength="6.55" lengthAdjust="spacingAndGlyphs">4</text>
<text x="412.85" y="754.26" font-size="10.9" text-anchor="middle">–</text>
<text x="457.66" y="754.26" font-size="10.9" text-anchor="middle">–</text>
<path d="M99 765.38H129.6" stroke="#9c1f3e" stroke-width="1.2" fill="none"/>
<text x="144" y="769.28" font-size="11.2" text-anchor="middle" textLength="13.1" lengthAdjust="spacingAndGlyphs">60</text>
<text x="188.81" y="769.28" font-size="11.2" text-anchor="middle" textLength="13.1" lengthAdjust="spacingAndGlyphs">35</text>
<text x="233.62" y="769.28" font-size="11.2" text-anchor="middle" textLength="13.1" lengthAdjust="spacingAndGlyphs">12</text>
<text x="278.42" y="769.28" font-size="11.2" text-anchor="middle" textLength="6.55" lengthAdjust="spacingAndGlyphs">4</text>
<text x="323.23" y="769.28" font-size="11.2" text-anchor="middle" textLength="6.55" lengthAdjust="spacingAndGlyphs">2</text>
<text x="368.04" y="769.28" font-size="11.2" text-anchor="middle" textLength="6.55" lengthAdjust="spacingAndGlyphs">2</text>
<text x="412.85" y="769.28" font-size="11.2" text-anchor="middle" textLength="6.55" lengthAdjust="spacingAndGlyphs">1</text>
<text x="457.66" y="768.98" font-size="10.9" text-anchor="middle">–</text>
<path d="M99 780.1H129.6" stroke="#3a5581" stroke-width="1.2" fill="none"/>
<text x="144" y="784" font-size="11.2" text-anchor="middle" textLength="19.65" lengthAdjust="spacingAndGlyphs">192</text>
<text x="188.81" y="784" font-size="11.2" text-anchor="middle" textLength="19.65" lengthAdjust="spacingAndGlyphs">104</text>
<text x="233.62" y="784" font-size="11.2" text-anchor="middle" textLength="13.1" lengthAdjust="spacingAndGlyphs">25</text>
<text x="278.42" y="784" font-size="11.2" text-anchor="middle" textLength="13.1" lengthAdjust="spacingAndGlyphs">12</text>
<text x="323.23" y="784" font-size="11.2" text-anchor="middle" textLength="6.55" lengthAdjust="spacingAndGlyphs">8</text>
<text x="368.04" y="784" font-size="11.2" text-anchor="middle" textLength="6.55" lengthAdjust="spacingAndGlyphs">2</text>
<text x="412.85" y="783.7" font-size="10.9" text-anchor="middle">–</text>
<text x="457.66" y="783.7" font-size="10.9" text-anchor="middle">–</text>
<path d="M165.5 797.2H177.4" stroke="#654166" stroke-width="1.2" fill="none"/>
<text x="181.69" y="800.7" font-size="10.9" textLength="26.84" lengthAdjust="spacingAndGlyphs">G-Clb</text>
<text x="211.26" y="800.7" font-size="10.9" textLength="7.47" lengthAdjust="spacingAndGlyphs">+</text>
<text x="220.33" y="800.7" font-size="10.9" textLength="90.38" lengthAdjust="spacingAndGlyphs">MRD-undetectable</text>
<path d="M165.5 814.1H177.4" stroke="#6ea64e" stroke-width="1.2" fill="none"/>
<text x="181.69" y="817.6" font-size="10.9" textLength="26.84" lengthAdjust="spacingAndGlyphs">G-Clb</text>
<text x="211.26" y="817.6" font-size="10.9" textLength="7.47" lengthAdjust="spacingAndGlyphs">+</text>
<text x="220.33" y="817.6" font-size="10.9" textLength="88.5" lengthAdjust="spacingAndGlyphs">MRD-intermediate</text>
<path d="M165.5 831.2H177.4" stroke="#9c1f3e" stroke-width="1.2" fill="none"/>
<text x="181.69" y="834.5" font-size="10.9" textLength="26.84" lengthAdjust="spacingAndGlyphs">G-Clb</text>
<text x="211.26" y="834.5" font-size="10.9" textLength="7.47" lengthAdjust="spacingAndGlyphs">+</text>
<text x="220.34" y="834.5" font-size="10.9" textLength="64.35" lengthAdjust="spacingAndGlyphs">MRD-positive</text>
<path d="M328.5 797.2H340.8" stroke="#c4bec4" stroke-width="1.2" fill="none"/>
<text x="344.99" y="800.7" font-size="10.9" textLength="26.03" lengthAdjust="spacingAndGlyphs">R-Clb</text>
<text x="372.85" y="800.7" font-size="10.9" textLength="7.59" lengthAdjust="spacingAndGlyphs">+</text>
<text x="382.43" y="800.7" font-size="10.9" textLength="90.18" lengthAdjust="spacingAndGlyphs">MRD-undetectable</text>
<path d="M328.5 814.1H340.8" stroke="#d98e2c" stroke-width="1.2" fill="none"/>
<text x="344.99" y="817.6" font-size="10.9" textLength="26.03" lengthAdjust="spacingAndGlyphs">R-Clb</text>
<text x="372.85" y="817.6" font-size="10.9" textLength="7.59" lengthAdjust="spacingAndGlyphs">+</text>
<text x="382.43" y="817.6" font-size="10.9" textLength="88.3" lengthAdjust="spacingAndGlyphs">MRD-intermediate</text>
<path d="M328.5 831.2H340.8" stroke="#3a5581" stroke-width="1.2" fill="none"/>
<text x="344.99" y="834.5" font-size="10.9" textLength="26.03" lengthAdjust="spacingAndGlyphs">R-Clb</text>
<text x="372.85" y="834.5" font-size="10.9" textLength="7.59" lengthAdjust="spacingAndGlyphs">+</text>
<text x="382.44" y="834.5" font-size="10.9" textLength="64.25" lengthAdjust="spacingAndGlyphs">MRD-positive</text>
<text x="25.44" y="852.2" font-size="11" textLength="32.46" lengthAdjust="spacingAndGlyphs">G-Clb,</text>
<text x="59.32" y="852.2" font-size="11" textLength="150.02" lengthAdjust="spacingAndGlyphs">obinutuzumab-chlorambucil;</text>
<text x="210.31" y="852.2" font-size="11" textLength="28.39" lengthAdjust="spacingAndGlyphs">MRD,</text>
<text x="240.41" y="852.2" font-size="11" textLength="42.09" lengthAdjust="spacingAndGlyphs">minimal</text>
<text x="284.45" y="852.2" font-size="11" textLength="40.53" lengthAdjust="spacingAndGlyphs">residual</text>
<text x="327.85" y="852.2" font-size="11" textLength="41.65" lengthAdjust="spacingAndGlyphs">disease;</text>
<text x="370.45" y="852.2" font-size="11" textLength="30.09" lengthAdjust="spacingAndGlyphs">R-Clb,</text>
<text x="25.52" y="867.2" font-size="11" textLength="123.48" lengthAdjust="spacingAndGlyphs">rituximab-chlorambucil.</text>
</svg></body></html>
